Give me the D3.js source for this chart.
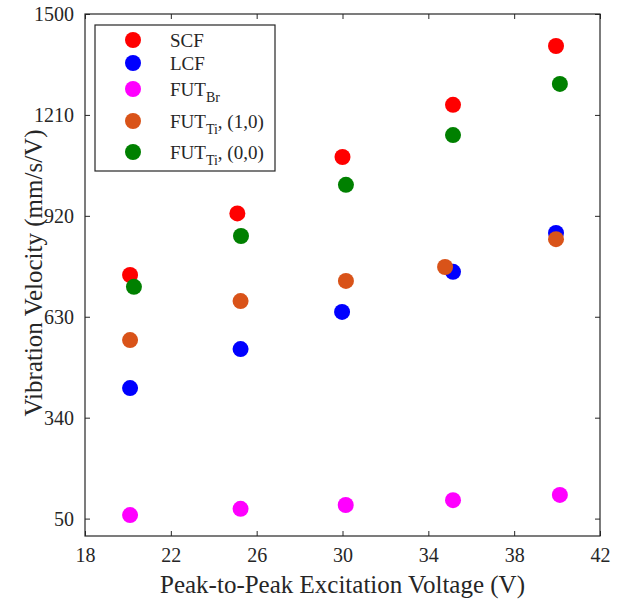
<!DOCTYPE html>
<html>
<head>
<meta charset="utf-8">
<script src="https://cdn.jsdelivr.net/npm/d3@7"></script>
<style>
  body { margin: 0; background: #fff; }
  svg text { font-family: "Liberation Serif", serif !important; fill: #262626; }
</style>
</head>
<body>
<div id="chart"></div>
<script>
// tick values
var xTicks = [18, 22, 26, 30, 34, 38, 42];
var yTicks = [50, 340, 630, 920, 1210, 1500];

// series (voltage, velocity)
var scfX = [20.1, 25.1, 30.0, 35.15, 39.95];
var scfY = [750, 927, 1089, 1239, 1408];
var lcfX = [20.1, 25.25, 29.98, 35.15, 39.95];
var lcfY = [425, 537, 644, 759, 871];
var brX = [20.1, 25.25, 30.15, 35.15, 40.13];
var brY = [60, 78, 89, 103, 118];
var ti10X = [20.1, 25.25, 30.16, 34.78, 39.95];
var ti10Y = [563, 675, 733, 773, 853];
var ti00X = [20.28, 25.27, 30.16, 35.15, 40.13];
var ti00Y = [716, 862, 1009, 1152, 1299];

var series = [
    { name: "SCF", sub: "", tail: "", color: "#ff0000", xs: scfX, ys: scfY },
    { name: "LCF", sub: "", tail: "", color: "#0000ff", xs: lcfX, ys: lcfY },
    { name: "FUT", sub: "Br", tail: "", color: "#ff00ff", xs: brX, ys: brY },
    { name: "FUT", sub: "Ti", tail: ", (1,0)", color: "#d95319", xs: ti10X, ys: ti10Y },
    { name: "FUT", sub: "Ti", tail: ", (0,0)", color: "#008000", xs: ti00X, ys: ti00Y }
];

var chart = {
    width: 630,
    height: 604,
    left: 85,
    right: 600,
    top: 14,
    bottom: 536,
    r: 8
};

var x = d3.scaleLinear().domain([18, 42]).range([chart.left, chart.right]);
var y = d3.scaleLinear().domain([0, 1500]).range([chart.bottom, chart.top]);

var svg = d3.select("#chart")
    .append("svg")
    .attr("width", chart.width)
    .attr("height", chart.height);

var w = chart.right - chart.left, h = chart.bottom - chart.top;

//axes, ticks pointing inward on all four sides
function styleAxis(g) {
    g.attr("font-family", null).attr("font-size", null);
    g.select(".domain").remove();
    g.selectAll(".tick line").attr("stroke", "#262626").attr("stroke-width", 1);
    g.selectAll(".tick text").style("font-size", "20px");
}
svg.append("g").attr("transform", "translate(0," + chart.bottom + ")")
    .call(d3.axisBottom(x).tickValues(xTicks).tickSize(-5).tickPadding(12).tickFormat(d3.format("d")))
    .call(styleAxis);
svg.append("g").attr("transform", "translate(0," + chart.top + ")")
    .call(d3.axisTop(x).tickValues(xTicks).tickSize(-5).tickFormat(""))
    .call(styleAxis);
svg.append("g").attr("transform", "translate(" + chart.left + ",0)")
    .call(d3.axisLeft(y).tickValues(yTicks).tickSize(-5).tickPadding(11).tickFormat(d3.format("d")))
    .call(styleAxis);
svg.append("g").attr("transform", "translate(" + chart.right + ",0)")
    .call(d3.axisRight(y).tickValues(yTicks).tickSize(-5).tickFormat(""))
    .call(styleAxis);

svg.append("rect")
    .attr("x", chart.left).attr("y", chart.top)
    .attr("width", w).attr("height", h)
    .attr("fill", "none").attr("stroke", "#262626").attr("stroke-width", 1.2);

//points
series.forEach(function (s) {
    svg.append("g").selectAll("circle")
        .data(s.xs)
        .enter()
        .append("circle")
        .attr("cx", function (d) { return x(d); })
        .attr("cy", function (d, i) { return y(s.ys[i]); })
        .attr("r", chart.r)
        .attr("fill", s.color);
});

//axis titles
svg.append("text")
    .attr("x", (chart.left + chart.right) / 2)
    .attr("y", 593)
    .attr("text-anchor", "middle")
    .style("font-size", "25px")
    .text("Peak-to-Peak Excitation Voltage (V)");
svg.append("text")
    .attr("transform", "translate(42," + 273 + ") rotate(-90)")
    .attr("text-anchor", "middle")
    .style("font-size", "25px")
    .text("Vibration Velocity (mm/s/V)");

//legend
var legend = svg.append("g");
legend.append("rect")
    .attr("x", 95).attr("y", 25)
    .attr("width", 180).attr("height", 146)
    .attr("fill", "#fff").attr("stroke", "#262626").attr("stroke-width", 1.2);
var rowY = [40, 63, 89, 121, 152];
series.forEach(function (s, i) {
    legend.append("circle")
        .attr("cx", 133).attr("cy", rowY[i])
        .attr("r", chart.r).attr("fill", s.color);
    var t = legend.append("text")
        .attr("x", 170).attr("y", rowY[i] + 7)
        .style("font-size", "19px");
    t.append("tspan").text(s.name);
    if (s.sub) {
        t.append("tspan").attr("dy", 6).style("font-size", "14px").text(s.sub);
        if (s.tail) t.append("tspan").attr("dy", -6).text(s.tail);
    }
});
</script>
</body>
</html>
